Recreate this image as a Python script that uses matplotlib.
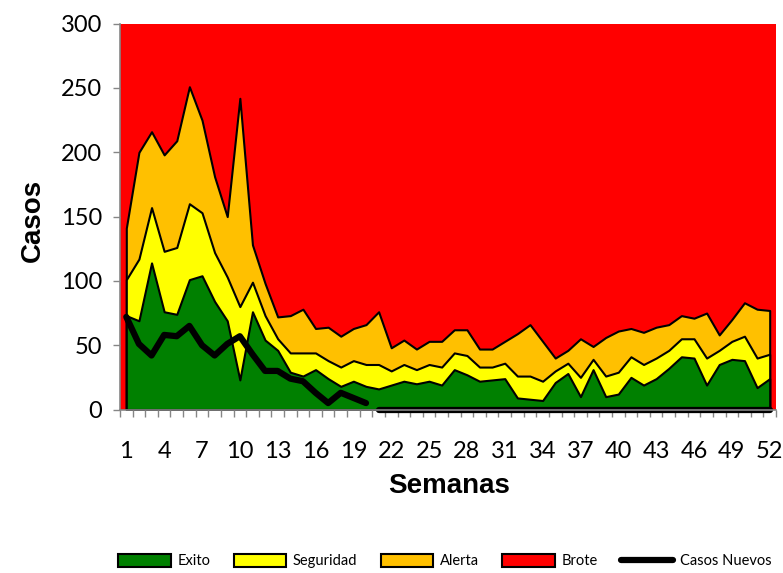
import numpy as np
import matplotlib
matplotlib.use('Agg')
import matplotlib.pyplot as plt
from matplotlib.patches import Patch
from matplotlib.lines import Line2D

semanas = np.arange(1, 53)

# limite superior (Exito)
exito = [73, 69, 114, 76, 74, 101, 104, 84, 69, 23,
         76, 54, 46, 29, 26, 31, 24, 18, 22, 18,
         16, 19, 22, 20, 22, 19, 31, 27, 22, 23,
         24, 9, 8, 7, 21, 28, 10, 31, 10, 12,
         25, 19, 24, 32, 41, 40, 19, 35, 39, 38,
         17, 24]

# limite superior acumulado (Seguridad)
seguridad_top = [101, 117, 157, 123, 126, 160, 153, 122, 103, 80,
                 99, 73, 55, 44, 44, 44, 38, 33, 38, 35,
                 35, 30, 35, 31, 35, 33, 44, 42, 33, 33,
                 36, 26, 26, 22, 30, 36, 25, 39, 26, 29,
                 41, 35, 40, 46, 55, 55, 40, 46, 53, 57,
                 40, 43]

# limite superior acumulado (Alerta)
alerta_top = [141, 200, 216, 198, 209, 251, 225, 181, 150, 242,
              128, 98, 72, 73, 78, 63, 64, 57, 63, 66,
              76, 48, 54, 47, 53, 53, 62, 62, 47, 47,
              53, 59, 66, 53, 40, 46, 55, 49, 56, 61,
              63, 60, 64, 66, 73, 71, 75, 58, 70, 83,
              78, 77]

brote_top = 300

casos_semanas_1 = np.arange(1, 21)
casos_nuevos_1 = [72, 51, 42, 58, 57, 65, 50, 42, 51, 57,
                  43, 30, 30, 24, 22, 13, 5, 13, 9, 5]
casos_semanas_2 = np.arange(21, 53)
casos_nuevos_2 = [0] * 32

etiquetas_x = list(range(1, 53, 3))

verde = '#008000'
amarillo = '#FFFF00'
naranja = '#FFC000'
rojo = '#FF0000'
gris = '#868686'

fig = plt.figure(figsize=(7.83, 5.73), dpi=100)
ax = fig.add_axes([120 / 783, 1 - 409.5 / 573, 656 / 783, (409.5 - 23.7) / 573])
ax.set_facecolor(rojo)

ax.fill_between(semanas, alerta_top, brote_top, color=rojo, lw=0)
ax.fill_between(semanas, 0, alerta_top, facecolor=naranja, edgecolor='black', lw=1.5)
ax.fill_between(semanas, 0, seguridad_top, facecolor=amarillo, edgecolor='black', lw=1.5)
ax.fill_between(semanas, 0, exito, facecolor=verde, edgecolor='black', lw=1.5)

ax.plot(casos_semanas_1, casos_nuevos_1, color='black', lw=4.5,
        solid_capstyle='round', solid_joinstyle='round', clip_on=False)
ax.plot(casos_semanas_2, casos_nuevos_2, color='black', lw=4.5,
        solid_capstyle='round', clip_on=False)

ax.set_xlim(0.5, 52.5)
ax.set_ylim(0, 300)

ax.set_yticks(range(0, 301, 50))
ax.set_xticks(etiquetas_x)
ax.set_xticks(np.arange(0.5, 53, 1), minor=True)

ax.tick_params(axis='y', length=5, color=gris, width=1, pad=8, labelsize=17)
ax.tick_params(axis='x', which='major', length=0, pad=23, labelsize=17)
ax.tick_params(axis='x', which='minor', length=5, color=gris, width=1)
for lab in ax.get_xticklabels() + ax.get_yticklabels():
    lab.set_family('Lato')

for s in ['top', 'right']:
    ax.spines[s].set_visible(False)
for s in ['left', 'bottom']:
    ax.spines[s].set_color(gris)
    ax.spines[s].set_linewidth(1.2)

fig.text(33 / 783, 1 - 220 / 573, 'Casos', rotation=90, ha='center', va='center',
         fontsize=20, fontweight='bold', family='Liberation Sans')
fig.text(449 / 783, 1 - 486 / 573, 'Semanas', ha='center', va='center',
         fontsize=20, fontweight='bold', family='Liberation Sans')

handles = [
    Patch(facecolor=verde, edgecolor='black', lw=1.5),
    Patch(facecolor=amarillo, edgecolor='black', lw=1.5),
    Patch(facecolor=naranja, edgecolor='black', lw=1.5),
    Patch(facecolor=rojo, edgecolor='black', lw=1.5),
    Line2D([0], [0], color='black', lw=4.5, solid_capstyle='round'),
]
labels = ['Exito', 'Seguridad', 'Alerta', 'Brote', 'Casos Nuevos']
fig.legend(handles, labels, loc='center', bbox_to_anchor=(445 / 783, 1 - 561 / 573),
           ncol=5, frameon=False, prop={'family': 'Lato', 'size': 10.5},
           handlelength=3.6, handleheight=1.0, handletextpad=0.45,
           columnspacing=1.6, borderpad=0)

fig.savefig('out.png', dpi=100)
